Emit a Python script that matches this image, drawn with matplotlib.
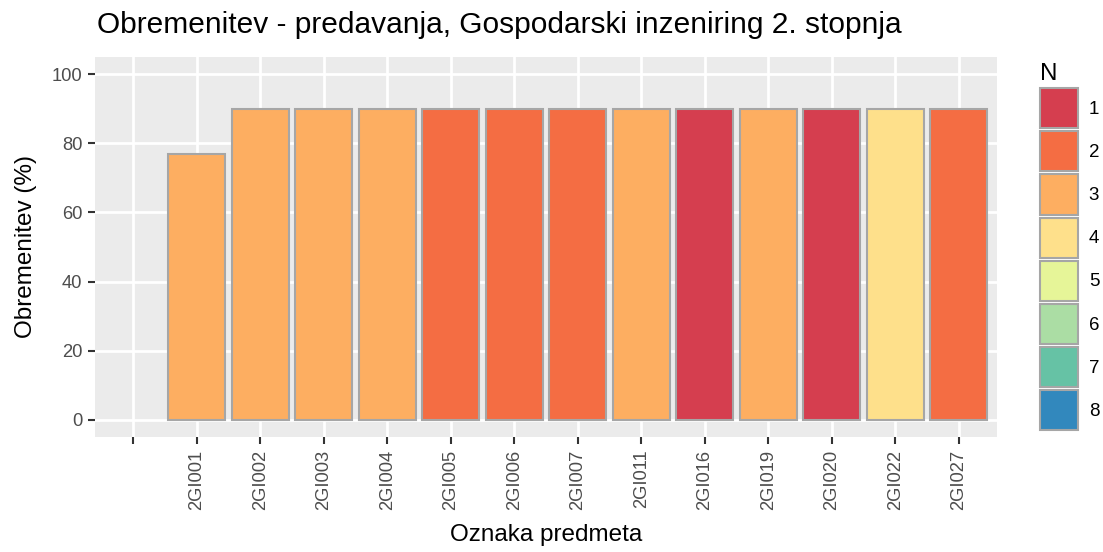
import matplotlib.pyplot as plt
from matplotlib.patches import Patch

# data
predmeti = ["", "2GI001", "2GI002", "2GI003", "2GI004", "2GI005", "2GI006", "2GI007",
            "2GI011", "2GI016", "2GI019", "2GI020", "2GI022", "2GI027"]
obremenitev = [None, 77, 90, 90, 90, 90, 90, 90, 90, 90, 90, 90, 90, 90]
n_vals = [None, 3, 3, 3, 3, 2, 2, 2, 3, 1, 3, 1, 4, 2]
n_levels = [1, 2, 3, 4, 5, 6, 7, 8]
spectral = ["#D53E4F", "#F46D43", "#FDAE61", "#FEE08B",
            "#E6F598", "#ABDDA4", "#66C2A5", "#3288BD"]

plt.rcParams['font.family'] = ['Liberation Sans', 'DejaVu Sans']

fig = plt.figure(figsize=(11.03, 5.52), dpi=100)
ax = fig.add_axes([95 / 1103, 1 - 437 / 552, 902 / 1103, 380 / 552])
ax.set_facecolor("#EBEBEB")

edge = "#A6A6A6"
for i, (v, n) in enumerate(zip(obremenitev, n_vals)):
    if v is None:
        continue
    ax.bar(i + 1, v, width=0.9, color=spectral[n - 1], edgecolor=edge,
           linewidth=1.5, zorder=3)

ax.set_xlim(0.4, len(predmeti) + 0.6)
ax.set_ylim(-5, 105)
ax.set_xticks(range(1, len(predmeti) + 1))
ax.set_xticklabels(predmeti, rotation=90, ha="center", va="top")
ax.set_yticks([0, 20, 40, 60, 80, 100])

ax.grid(True, color="white", linewidth=2, zorder=0)
ax.set_axisbelow(True)
for s in ax.spines.values():
    s.set_visible(False)
ax.tick_params(axis="both", colors="#333333", length=5, width=1.5,
               labelsize=13.2, labelcolor="#4D4D4D")
ax.tick_params(axis="x", pad=4)
ax.tick_params(axis="y", pad=4)

ax.set_xlabel("Oznaka predmeta", fontsize=17.5, labelpad=10)
ax.set_ylabel("Obremenitev (%)", fontsize=17.5, labelpad=11)
fig.text(97 / 1103, 1 - 25 / 552, "Obremenitev - predavanja, Gospodarski inzeniring 2. stopnja",
         fontsize=21.5, ha="left", va="center")

handles = [Patch(facecolor=c, edgecolor=edge, linewidth=1.5) for c in spectral]
leg = fig.legend(handles, [str(n) for n in n_levels], title="N",
                 loc="upper left", bbox_to_anchor=(1040 / 1103, 1 - 63 / 552),
                 frameon=False, fontsize=13.5, title_fontsize=17.5,
                 handlelength=2.0, handleheight=2.92, labelspacing=0.16,
                 handletextpad=0.6, borderaxespad=0, borderpad=0)
leg._legend_box.align = "left"

fig.savefig("out.png", dpi=100)
